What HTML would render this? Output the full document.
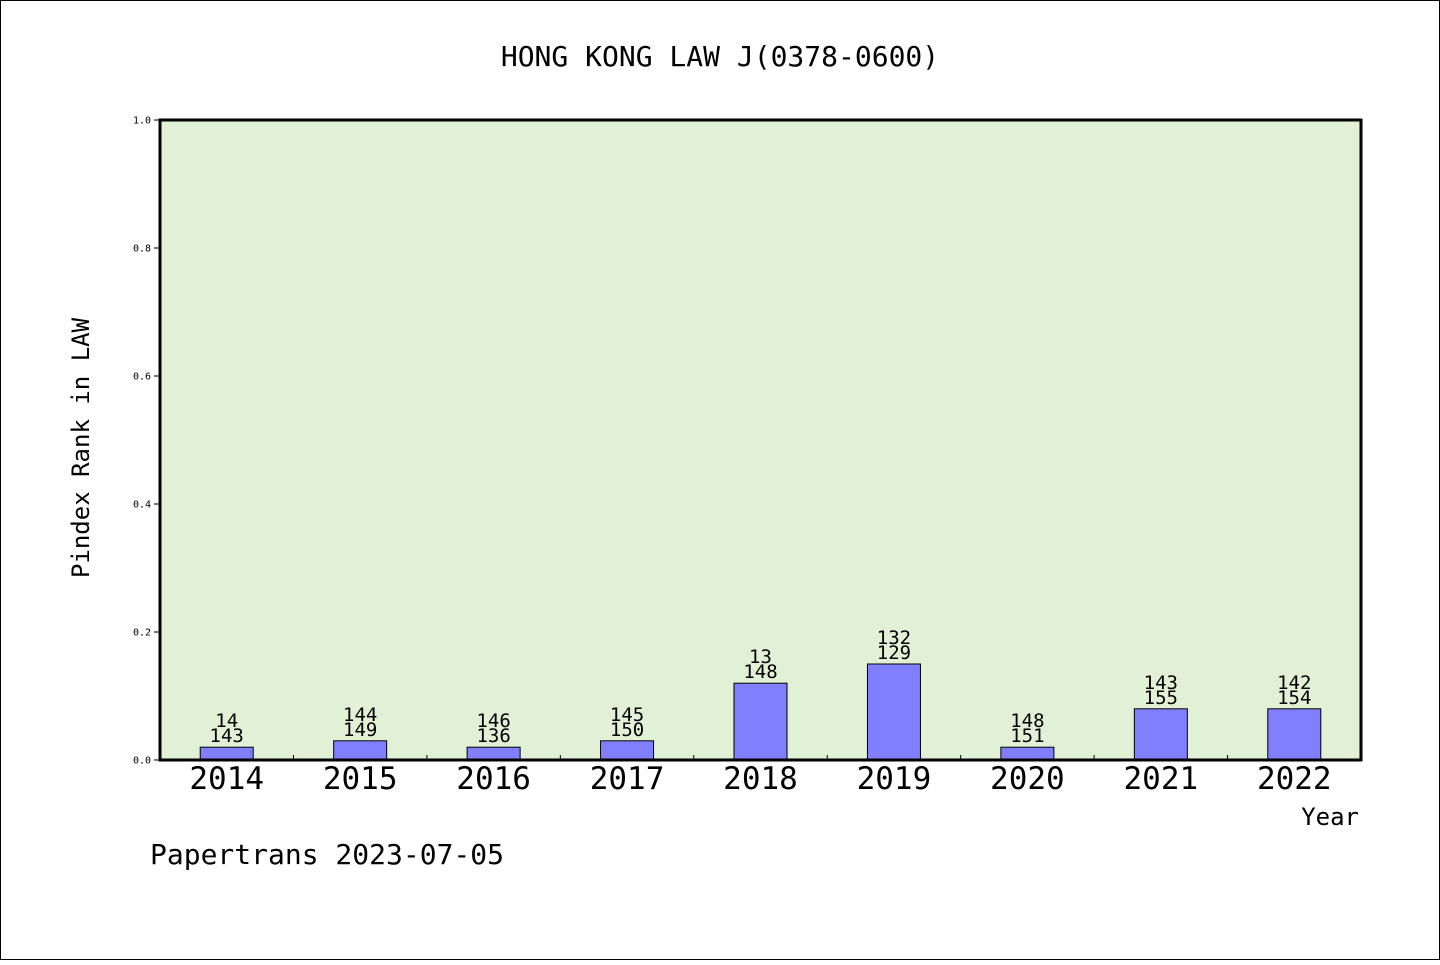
<!DOCTYPE html>
<html><head><meta charset="utf-8"><style>
body{margin:0;background:#fff}
svg text{font-family:"DejaVu Sans Mono","Liberation Mono",monospace;fill:#000}
</style></head><body>
<svg width="1440" height="960" id="c">
<rect x="0.5" y="0.5" width="1439" height="959" fill="#fff" stroke="#000"/>
<text x="720" y="66" font-size="28" text-anchor="middle">HONG KONG LAW J(0378-0600)</text>
<rect x="160" y="120" width="1201" height="640" fill="#e2f0d6"/>
<g id="bars"></g>
<rect x="160" y="120" width="1201" height="640" fill="none" stroke="#000" stroke-width="3"/>
<text transform="translate(89,448) rotate(-90)" font-size="24" text-anchor="middle">Pindex Rank in LAW</text>
<text x="1359" y="825" font-size="24" text-anchor="end">Year</text>
<text x="150" y="864" font-size="28">Papertrans 2023-07-05</text>
</svg>
<script>
const years=["2014","2015","2016","2017","2018","2019","2020","2021","2022"];
const values=[0.02,0.03,0.02,0.03,0.12,0.15,0.02,0.08,0.08];
const topLabels=["14","144","146","145","13","132","148","143","142"];
const bottomLabels=["143","149","136","150","148","129","151","155","154"];
const yTicks=["0.0","0.2","0.4","0.6","0.8","1.0"];
const X0=160,W=1201,Y0=760,H=640,band=W/years.length;
const ys=v=>Y0-v*H, xc=i=>X0+band*(i+0.5);
const NS="http://www.w3.org/2000/svg";
const g=document.getElementById('bars');
function mk(t,a,txt){const e=document.createElementNS(NS,t);for(const k in a)e.setAttribute(k,a[k]);if(txt!==undefined)e.textContent=txt;g.appendChild(e);return e;}
yTicks.forEach(t=>{const y=ys(parseFloat(t));
 const l=mk('line',{x1:X0-6,x2:X0,y1:y,y2:y,stroke:'#000'});
 const tx=mk('text',{x:X0-9,y:y+3.5,'font-size':10,'text-anchor':'end'},t);});
years.forEach((yr,i)=>{
 const c=xc(i),top=ys(values[i]);
 const r=mk('rect',{x:c-26.5,y:top,width:53,height:Y0-top,fill:'#8080ff',stroke:'#000','stroke-width':1});
 
 const t1=mk('text',{x:c,y:top-20,'font-size':19,'text-anchor':'middle'},topLabels[i]);
 
 const t2=mk('text',{x:c,y:top-5,'font-size':19,'text-anchor':'middle'},bottomLabels[i]);
 
 const xl=mk('text',{x:c,y:789,'font-size':31,'text-anchor':'middle'},yr);
 
 if(i>0){const tk=mk('line',{x1:X0+band*i,x2:X0+band*i,y1:Y0,y2:Y0-5,stroke:'#000'});
 }
});
</script>
</body></html>
